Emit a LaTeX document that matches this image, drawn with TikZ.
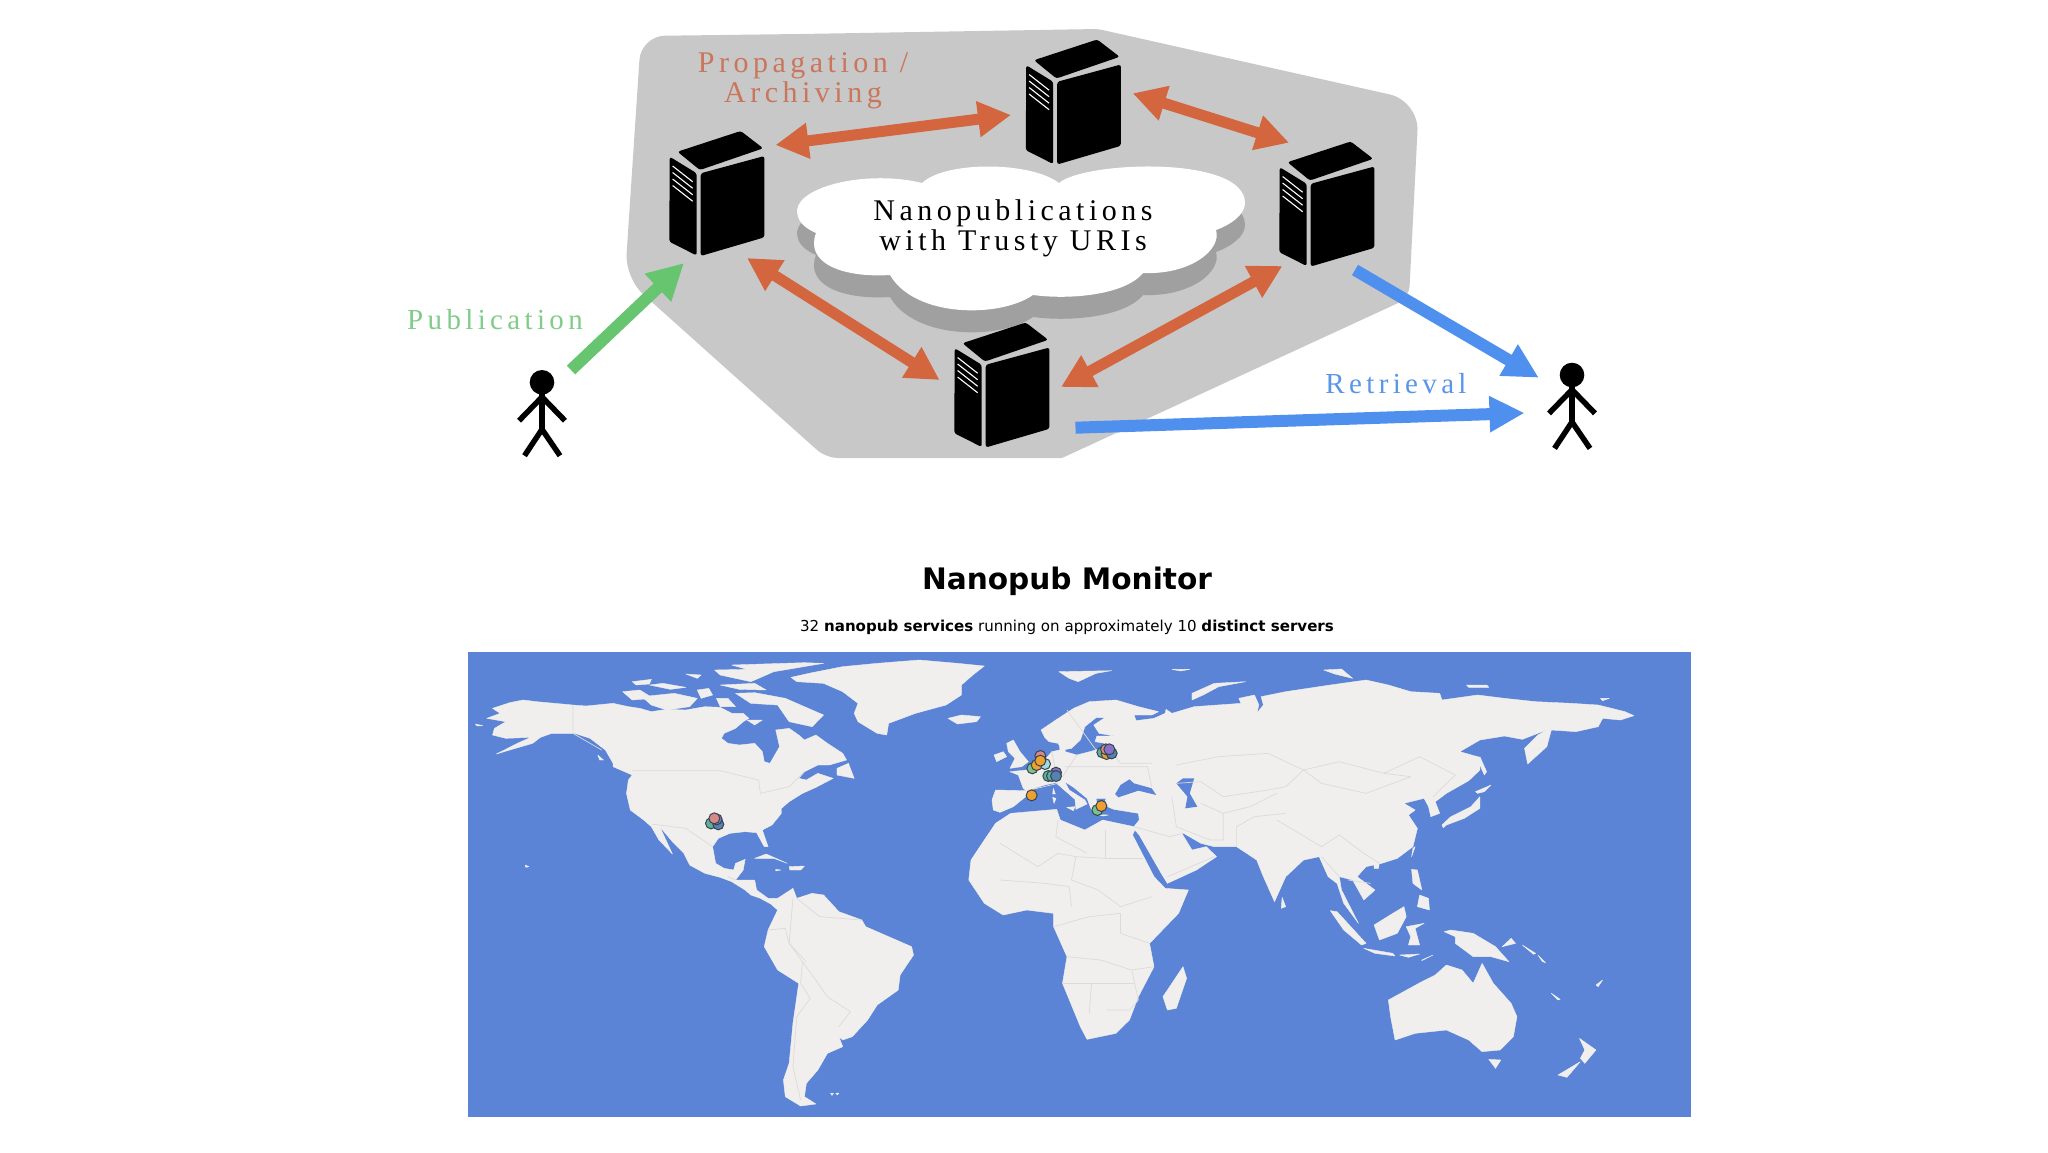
\documentclass[tikz,border=0pt]{standalone}
\usepackage{fontspec}
\usetikzlibrary{arrows.meta}
\newfontfamily\spacedserif[LetterSpace=15]{Liberation Serif}
\newfontfamily\uisans{DejaVu Sans}
\definecolor{shapegray}{HTML}{C8C8C8}
\definecolor{cloudshade}{HTML}{A0A0A0}
\definecolor{orangearrow}{HTML}{D4663F}
\definecolor{orangetext}{HTML}{C9765C}
\definecolor{bluearrow}{HTML}{4F90EE}
\definecolor{bluetext}{HTML}{5A96E8}
\definecolor{greenarrow}{HTML}{66C56E}
\definecolor{greentext}{HTML}{80CC88}
\definecolor{mapsea}{HTML}{5B84D6}
\definecolor{mapland}{HTML}{F0EFED}
\definecolor{mapborder}{HTML}{DCDBD8}
\definecolor{dotline}{HTML}{33474F}
\definecolor{dotorange}{HTML}{F0A030}
\definecolor{dotgreen}{HTML}{7FC08F}
\definecolor{dotcyan}{HTML}{A5D8E2}
\definecolor{dotpink}{HTML}{D98888}
\definecolor{dotteal}{HTML}{5FB09A}
\definecolor{dotpurple}{HTML}{8A70C8}
\definecolor{dotblue}{HTML}{5880B0}
\newcommand{\cloudpath}{(797,210) .. controls (800,185) and (870,170) .. (922,183)
 .. controls (945,161) and (1030,161) .. (1059,183)
 .. controls (1085,161) and (1245,155) .. (1245,203)
 .. controls (1245,215) and (1230,225) .. (1216,230)
 .. controls (1222,250) and (1190,275) .. (1143,273)
 .. controls (1125,295) and (1070,300) .. (1033,295)
 .. controls (1000,318) and (915,318) .. (890,275)
 .. controls (840,278) and (805,262) .. (816,233)
 .. controls (805,228) and (797,222) .. (797,210) -- cycle}
\tikzset{
 servernode/.style={minimum width=97pt,minimum height=125pt,inner sep=0pt,outer sep=0pt},
 serverpic/.pic={
  \begin{scope}[shift={(-48.5,-62.5)},rounded corners=2.5pt]
   \fill[black] (9,20.7) -- (72.2,0) -- (94.7,17.3) -- (31.4,39) -- cycle;
   \fill[black] (1.2,25.7) -- (28.2,42.3) -- (28.2,124.5) -- (0.8,110.7) -- cycle;
   \fill[black] (32.2,42.3) -- (95.9,25) -- (95.9,106.3) -- (32.2,125) -- cycle;
  \end{scope}
  \begin{scope}[shift={(-48.5,-62.5)},white,line width=1.1pt]
   \draw (4.1,35) -- (24.1,50.7);
   \draw (4.1,41.5) -- (24.1,57.2);
   \draw (4.1,48) -- (24.1,63.7);
   \draw (4.1,54.5) -- (24.1,70.2);
  \end{scope}
 },
 personhead/.style={circle,fill=black,minimum size=24.6pt,inner sep=0pt,outer sep=0pt},
 personbody/.pic={
  \draw[black,line width=5.5pt] (0,10) -- (0,49.4);
  \draw[black,line width=5.5pt] (-23,38.4) -- (0,14.7) -- (23,38.4);
  \draw[black,line width=5.5pt] (-17.5,73.4) -- (0,47) -- (18,73.4);
 },
 orangelink/.style={orangearrow,line width=11pt,{Triangle[length=33pt,width=34pt]}-{Triangle[length=33pt,width=34pt]}},
 bluelink/.style={bluearrow,line width=12pt,-{Triangle[length=35pt,width=34pt]}},
 greenlink/.style={greenarrow,line width=12pt,-{Triangle[length=36pt,width=36pt]}},
 labeltext/.style={inner sep=0pt,outer sep=0pt,align=center},
 land/.style={fill=mapland,draw=mapland,line width=0.4pt,line join=round},
 sea/.style={fill=mapsea},
 border/.style={draw=mapborder,line width=0.7pt,line join=round},
 zthree/.style={shift={(460,650)},x=0.3827pt,y=-0.33333pt},
 zfour/.style={shift={(1000,650)},x=0.4464pt,y=-0.33333pt},
 zfive/.style={shift={(980,720)},x=0.33333pt,y=-0.33333pt},
 mapdot/.style={circle,draw=dotline,line width=1pt,minimum size=11pt,inner sep=0pt},
}
\begin{document}
\begin{tikzpicture}[x=1pt,y=-1pt]
\useasboundingbox (0,0) rectangle (2048,1152);
\fill[white] (0,0) rectangle (2048,1152);
% gray platform
\fill[shapegray] (800,34) [rounded corners=24pt] -- (641,36) -- (625,278) [rounded corners=12pt] -- (826,458) [rounded corners=1pt] -- (1062,458) [rounded corners=12pt] -- (1409,298) [rounded corners=30pt] -- (1419,101) [rounded corners=4pt] -- (1098,29) [sharp corners] -- (800,34) -- cycle;
% cloud
\fill[cloudshade,shift={(0,22)}] \cloudpath;
\fill[white] \cloudpath;
\node[labeltext,font=\spacedserif\fontsize{30}{30}\selectfont,text=black] (cloud) at (1013,228) {Nanopublications\\with Trusty URIs};
% servers
\node[servernode] (s1) at (717,193.5) {};
\node[servernode] (s2) at (1073.5,102) {};
\node[servernode] (s3) at (1327,204) {};
\node[servernode] (s4) at (1002,385) {};
\pic at (s1.center) {serverpic};
\pic at (s2.center) {serverpic};
\pic at (s3.center) {serverpic};
\pic at (s4.center) {serverpic};
% persons
\node[personhead] (pl) at (542,382.3) {};
\node[personhead] (pr) at (1572,375) {};
\pic at (pl.center) {personbody};
\pic at (pr.center) {personbody};
% connectors
\draw[orangelink] ([shift={(58.5,-48.5)}]s1.center) -- ([shift={(-62.5,13)}]s2.center);
\draw[orangelink] ([shift={(59.2,-8.7)}]s2.center) -- ([shift={(-38,-61.3)}]s3.center);
\draw[orangelink] ([shift={(30,64.5)}]s1.center) -- ([shift={(-62.4,-5)}]s4.center);
\draw[orangelink] ([shift={(-44.6,62)}]s3.center) -- ([shift={(59,2)}]s4.center);
\draw[greenlink] ([shift={(29,-12.3)}]pl.center) -- ([shift={(-33,69.5)}]s1.center);
\draw[bluelink] ([shift={(28,66)}]s3.center) -- ([shift={(-33.2,2.7)}]pr.center);
\draw[bluelink] ([shift={(73.5,42.7)}]s4.center) -- ([shift={(-47.5,38)}]pr.center);
% labels
\node[labeltext,font=\spacedserif\fontsize{30}{30}\selectfont,text=orangetext] (prop) at (803,81) {Propagation /\\Archiving};
\node[labeltext,font=\spacedserif\fontsize{29}{30}\selectfont,text=greentext,anchor=base] (pub) at (495,329) {Publication};
\node[labeltext,font=\spacedserif\fontsize{29}{30}\selectfont,text=bluetext,anchor=base] (ret) at (1396,393) {Retrieval};
% title
\node[labeltext,font=\uisans\bfseries\fontsize{29.6}{32}\selectfont,anchor=base] (title) at (1067,589) {Nanopub Monitor};
\node[labeltext,font=\uisans\fontsize{15.06}{18}\selectfont,anchor=base] (sub) at (1067,631) {32 \textbf{nanopub services} running on approximately 10 \textbf{distinct servers}};
% map
\fill[mapsea] (468,652) rectangle (1691,1117);
\begin{scope}[zthree]
 % Americas
 \filldraw[land] plot coordinates {(85,175) (130,158) (165,150) (200,155) (295,165) (330,168) (400,160) (440,170) (470,175) (500,185) (540,178) (590,180) (640,170) (680,172) (710,190) (740,190) (755,205) (740,215) (720,235) (690,250) (683,265) (700,280) (730,285) (770,280) (790,305) (795,335) (810,340) (820,320) (835,290) (825,240) (860,235) (885,255) (900,270) (930,255) (960,280) (1000,310) (1010,330) (965,345) (935,345) (900,365) (885,385) (905,390) (935,370) (975,385) (930,412) (895,430) (860,455) (840,475) (840,490) (815,525) (790,540) (805,590) (795,590) (775,548) (745,545) (705,550) (675,565) (660,590) (668,640) (690,655) (715,660) (720,640) (745,628) (740,660) (720,690) (770,690) (775,720) (805,745) (830,745) (870,715) (880,745) (920,730) (950,735) (990,785) (1050,810) (1060,830) (1110,855) (1180,890) (1185,915) (1150,975) (1145,1020) (1090,1065) (1065,1110) (1025,1160) (1000,1170) (990,1160) (1000,1190) (960,1210) (935,1260) (905,1300) (900,1340) (930,1362) (890,1368) (850,1340) (845,1290) (860,1240) (870,1120) (885,1000) (830,960) (795,890) (805,840) (830,780) (812,762) (785,745) (760,735) (745,720) (710,695) (680,682) (640,670) (600,645) (585,610) (555,575) (522,530) (555,612) (520,570) (500,530) (480,510) (445,480) (435,430) (440,390) (450,375) (400,350) (400,340) (380,300) (340,265) (300,250) (240,250) (210,262) (190,280) (130,300) (95,312) (150,280) (185,262) (120,265) (85,255) (90,235) (120,215) (70,205) (105,190)} -- cycle;
 % Greenland and islands
 \filldraw[land] plot coordinates {(865,82) (920,68) (1000,50) (1090,40) (1200,30) (1300,40) (1370,48) (1340,75) (1310,105) (1310,135) (1270,165) (1190,190) (1120,220) (1115,255) (1090,250) (1040,215) (1030,190) (1040,160) (1000,125) (950,100) (880,95)} -- cycle;
 \filldraw[land] plot coordinates {(1275,205) (1310,195) (1360,200) (1350,215) (1300,222)} -- cycle;
 \filldraw[land] plot coordinates {(450,95) (500,88) (495,102) (460,105)} -- cycle;
 \filldraw[land] plot coordinates {(495,105) (530,100) (590,112) (550,118)} -- cycle;
 \filldraw[land] plot coordinates {(425,125) (470,120) (505,145) (450,150)} -- cycle;
 \filldraw[land] plot coordinates {(475,140) (560,130) (620,145) (600,170) (540,180) (500,165)} -- cycle;
 \filldraw[land] plot coordinates {(620,120) (650,115) (660,135) (630,145)} -- cycle;
 \filldraw[land] plot coordinates {(680,105) (770,100) (800,120) (730,118)} -- cycle;
 \filldraw[land] plot coordinates {(670,145) (700,145) (720,170) (680,170)} -- cycle;
 \filldraw[land] plot coordinates {(720,130) (770,128) (850,145) (950,195) (920,230) (860,215) (830,165) (760,160)} -- cycle;
 \filldraw[land] plot coordinates {(710,45) (900,38) (950,40) (820,65) (760,95) (680,75) (665,60) (750,58)} -- cycle;
 \filldraw[land] plot coordinates {(590,72) (630,75) (620,85)} -- cycle;
 \filldraw[land] plot coordinates {(750,210) (790,210) (770,225)} -- cycle;
 \filldraw[land] plot coordinates {(985,355) (1015,340) (1030,385) (985,375)} -- cycle;
 \filldraw[land] plot coordinates {(770,625) (800,612) (855,640) (820,625)} -- cycle;
 \filldraw[land] plot coordinates {(860,650) (900,648) (890,660) (862,660)} -- cycle;
 \filldraw[land] plot coordinates {(825,658) (838,660) (825,663)} -- cycle;
 \filldraw[land] plot coordinates {(170,645) (180,650) (172,652)} -- cycle;
 \filldraw[land] plot coordinates {(360,315) (375,330) (365,330)} -- cycle;
 \filldraw[land] plot coordinates {(40,222) (60,227) (45,228)} -- cycle;
 \filldraw[land] plot coordinates {(968,1330) (976,1330) (972,1336)} -- cycle;
 \filldraw[land] plot coordinates {(982,1330) (990,1329) (986,1335)} -- cycle;
 % borders
 \draw[border] plot coordinates {(295,165) (295,250) (370,300)};
 \draw[border] plot coordinates {(450,362) (680,362) (780,390) (785,430) (860,410) (900,365)};
 \draw[border] plot coordinates {(500,522) (590,535) (660,590)};
 \draw[border] plot coordinates {(700,680) (720,690)};
 \draw[border] plot coordinates {(870,745) (860,880) (895,935) (890,1000) (915,1045) (880,1100) (870,1250) (890,1350)};
 \draw[border] plot coordinates {(895,935) (960,1040) (1020,1085) (990,1130)};
 \draw[border] plot coordinates {(860,880) (905,935)};
 \draw[border] plot coordinates {(805,840) (850,835) (860,880)};
 \draw[border] plot coordinates {(880,745) (940,800) (1050,810)};
\end{scope}
\begin{scope}[zfour]
 % Eurasia and Africa
 \filldraw[land] plot coordinates {(-10,420) (60,422) (52,415) (41,375) (22,365) (60,360) (97,335) (116,305) (134,300) (133,275) (146,285) (146,305) (172,315) (201,305) (228,295) (235,280) (213,275) (217,258) (258,258) (222,250) (210,225) (235,203) (215,203) (190,230) (180,270) (160,295) (140,300) (130,280) (110,275) (100,262) (92,240) (125,210) (165,175) (200,155) (260,150) (310,170) (355,185) (340,195) (300,195) (305,212) (345,205) (370,190) (372,178) (385,190) (435,170) (540,160) (535,145) (570,135) (580,165) (575,190) (590,165) (585,140) (640,125) (740,105) (820,90) (870,105) (920,125) (985,130) (990,150) (1070,135) (1130,145) (1200,155) (1280,160) (1340,165) (1400,185) (1420,197) (1390,210) (1350,205) (1340,230) (1290,245) (1235,240) (1225,290) (1182,342) (1175,295) (1205,255) (1230,237) (1170,268) (1130,258) (1075,270) (1030,305) (1075,322) (1075,360) (1050,392) (1000,430) (975,455) (985,490) (965,500) (960,470) (950,445) (905,460) (930,480) (915,495) (935,535) (925,590) (890,625) (855,640) (820,650) (800,680) (840,720) (815,750) (790,690) (760,680) (765,720) (803,820) (770,760) (755,700) (735,680) (715,620) (680,630) (640,680) (615,755) (590,680) (575,630) (530,590) (480,590) (450,580) (405,545) (430,600) (462,590) (485,620) (440,660) (375,700) (362,672) (312,555) (302,540) (297,555) (345,680) (370,715) (422,720) (400,790) (335,880) (345,950) (310,1040) (290,1110) (260,1150) (195,1168) (180,1130) (140,1000) (150,920) (120,830) (120,790) (60,780) (7,795) (-35,760) (-70,690) (-65,630) (-10,520) (24,490) (127,478) (135,510) (190,540) (230,510) (300,530) (312,510) (310,490) (255,478) (232,465) (238,445) (215,445) (222,490) (205,480) (195,445) (165,412) (145,395) (155,420) (190,450) (195,462) (170,478) (168,448) (125,398) (100,405) (70,418) (62,435) (30,470) (0,487) (-15,480) (-18,450)} -- cycle;
 \fill[sea] plot coordinates {(258,432) (270,405) (290,388) (300,400) (340,415) (350,435) (310,422) (265,442)} -- cycle;
 \fill[sea] plot coordinates {(395,400) (410,385) (435,385) (425,430) (442,470) (415,475) (420,440)} -- cycle;
 % islands
 \filldraw[land] plot coordinates {(132,65) (250,62) (215,70) (175,95) (155,85)} -- cycle;
 \filldraw[land] plot coordinates {(385,58) (425,58) (405,63)} -- cycle;
 \filldraw[land] plot coordinates {(430,130) (480,100) (550,95) (490,110) (455,135) (430,150)} -- cycle;
 \filldraw[land] plot coordinates {(725,60) (765,57) (790,85) (750,72)} -- cycle;
 \filldraw[land] plot coordinates {(1045,105) (1090,105) (1095,112) (1050,112)} -- cycle;
 \filldraw[land] plot coordinates {(1345,145) (1365,145) (1350,152)} -- cycle;
 \filldraw[land] plot coordinates {(990,525) (1010,500) (1055,470) (1075,440) (1075,475) (1040,505) (1000,525) (993,533)} -- cycle;
 \filldraw[land] plot coordinates {(1065,425) (1100,405) (1085,425) (1070,430)} -- cycle;
 \filldraw[land] plot coordinates {(1075,320) (1090,365) (1085,375) (1075,345)} -- cycle;
 \filldraw[land] plot coordinates {(925,595) (930,590) (922,620)} -- cycle;
 \filldraw[land] plot coordinates {(838,640) (850,635) (848,655) (838,655)} -- cycle;
 \filldraw[land] plot coordinates {(632,742) (640,770) (630,775)} -- cycle;
 \filldraw[land] plot coordinates {(922,658) (935,660) (945,720) (925,700)} -- cycle;
 \filldraw[land] plot coordinates {(940,735) (960,745) (962,780) (935,770)} -- cycle;
 \filldraw[land] plot coordinates {(740,782) (755,785) (820,880) (810,885) (770,840)} -- cycle;
 \filldraw[land] plot coordinates {(815,895) (880,910) (885,918) (840,910)} -- cycle;
 \filldraw[land] plot coordinates {(838,825) (880,790) (905,770) (910,800) (890,850) (850,870)} -- cycle;
 \filldraw[land] plot coordinates {(910,830) (950,820) (930,835) (940,885) (915,885) (920,860)} -- cycle;
 \filldraw[land] plot coordinates {(995,845) (1010,840) (1060,850) (1110,890) (1140,935) (1100,920) (1060,920) (1045,905) (1020,880) (1020,860)} -- cycle;
 \filldraw[land] plot coordinates {(870,1050) (945,995) (975,975) (1000,945) (1035,960) (1060,1000) (1080,940) (1105,1000) (1145,1060) (1158,1100) (1150,1160) (1120,1200) (1080,1205) (1050,1170) (1000,1140) (930,1150) (885,1170) (875,1100)} -- cycle;
 \filldraw[land] plot coordinates {(1095,1228) (1122,1230) (1110,1255)} -- cycle;
 \filldraw[land] plot coordinates {(1298,1165) (1335,1200) (1310,1240) (1300,1225) (1310,1200)} -- cycle;
 \filldraw[land] plot coordinates {(1300,1235) (1270,1282) (1250,1275)} -- cycle;
 \filldraw[land] plot coordinates {(410,950) (418,985) (395,1075) (375,1080) (365,1040) (385,1000)} -- cycle;
 \filldraw[land] plot coordinates {(1235,1030) (1255,1048) (1250,1050)} -- cycle;
 \filldraw[land] plot coordinates {(1335,1005) (1350,990) (1340,1010)} -- cycle;
 \filldraw[land] plot coordinates {(1145,865) (1155,880) (1125,890)} -- cycle;
 \filldraw[land] plot coordinates {(1170,885) (1200,910) (1195,913)} -- cycle;
 \filldraw[land] plot coordinates {(1205,915) (1222,938) (1215,935)} -- cycle;
 \filldraw[land] plot coordinates {(945,930) (970,915) (945,932)} -- cycle;
 \filldraw[land] plot coordinates {(895,915) (940,912) (915,922)} -- cycle;
 % borders
 \draw[border] plot coordinates {(130,510) (125,560) (195,610)};
 \draw[border] plot coordinates {(237,540) (237,625) (320,625)};
 \draw[border] plot coordinates {(0,580) (85,650) (130,610) (170,620) (237,625)};
 \draw[border] plot coordinates {(170,620) (160,690) (220,720) (270,770) (340,740)};
 \draw[border] plot coordinates {(0,690) (100,700) (155,710) (160,770)};
 \draw[border] plot coordinates {(120,830) (200,800) (270,790) (270,850) (335,880)};
 \draw[border] plot coordinates {(150,920) (225,930) (295,960) (345,950)};
 \draw[border] plot coordinates {(140,1000) (300,1000)};
 \draw[border] plot coordinates {(200,1090) (205,1000)};
 \draw[border] plot coordinates {(295,960) (310,1050) (290,1080) (240,1080)};
 \draw[border] plot coordinates {(395,345) (490,320) (600,310) (680,360) (760,335) (860,370) (940,320) (1020,375) (970,440)};
 \draw[border] plot coordinates {(680,360) (720,400) (820,430) (920,380) (860,370)};
 \draw[border] plot coordinates {(395,400) (450,395) (500,440) (600,420) (640,410) (680,360)};
 \draw[border] plot coordinates {(385,440) (395,530) (470,570) (500,570) (500,490) (450,460)};
 \draw[border] plot coordinates {(500,490) (560,470) (620,430)};
 \draw[border] plot coordinates {(530,590) (530,530) (570,500) (640,490)};
 \draw[border] plot coordinates {(620,510) (720,590) (760,555) (815,610) (850,640)};
 \draw[border] plot coordinates {(720,620) (760,680)};
 \draw[border] plot coordinates {(780,690) (830,700)};
 \draw[border] plot coordinates {(300,530) (380,560) (410,550)};
 \draw[border] plot coordinates {(375,680) (480,620)};
 \draw[border] plot coordinates {(60,422) (130,400) (116,305)};
 \draw[border] plot coordinates {(172,315) (140,380)};
 \draw[border] plot coordinates {(145,350) (330,350) (340,410)};
 \draw[border] plot coordinates {(235,280) (270,340) (340,340)};
 \draw[border] plot coordinates {(150,180) (215,300)};
\end{scope}
\begin{scope}[zfive]
 \filldraw[land] plot coordinates {(80,70) (100,60) (120,95) (145,125) (125,140) (90,145) (105,115) (85,95)} -- cycle;
 \filldraw[land] plot coordinates {(42,105) (70,95) (80,110) (50,125)} -- cycle;
 \filldraw[land] plot coordinates {(220,205) (226,222) (218,222)} -- cycle;
 \filldraw[land] plot coordinates {(218,232) (228,235) (222,250)} -- cycle;
 \filldraw[land] plot coordinates {(260,262) (285,260) (280,272)} -- cycle;
 \filldraw[land] plot coordinates {(355,284) (385,285) (370,288)} -- cycle;
 % server locations
 \node[mapdot,fill=dotpink] (d1) at (181,108) {};
 \node[mapdot,fill=dotcyan] (d2) at (195,132) {};
 \node[mapdot,fill=dotgreen] (d3) at (157,145) {};
 \node[mapdot,fill=dotorange] (d4) at (170,135) {};
 \node[mapdot,fill=dotorange] (d5) at (181,122) {};
 \node[mapdot,fill=dotpurple] (d6) at (228,158) {};
 \node[mapdot,fill=dotteal] (d7) at (205,168) {};
 \node[mapdot,fill=dotteal] (d8) at (216,168) {};
 \node[mapdot,fill=dotblue] (d9) at (228,168) {};
 \node[mapdot,fill=dotorange] (d10) at (155,226) {};
 \node[mapdot,fill=dotgreen] (d11) at (352,270) {};
 \node[mapdot,fill=dotorange] (d12) at (364,258) {};
 \node[mapdot,fill=dotteal] (d13) at (367,97) {};
 \node[mapdot,fill=dotorange] (d14) at (380,102) {};
 \node[mapdot,fill=dotblue] (d15) at (395,100) {};
 \node[mapdot,fill=dotpink] (d16) at (378,88) {};
 \node[mapdot,fill=dotpurple] (d17) at (388,88) {};
\end{scope}
\begin{scope}[shift={(680,790)},x=0.33333pt,y=-0.33333pt]
 \node[mapdot,fill=dotteal] (d18) at (93,100) {};
 \node[mapdot,fill=dotblue] (d19) at (115,103) {};
 \node[mapdot,fill=dotpurple] (d20) at (110,88) {};
 \node[mapdot,fill=dotpink] (d21) at (103,85) {};
\end{scope}
\end{tikzpicture}
\end{document}
